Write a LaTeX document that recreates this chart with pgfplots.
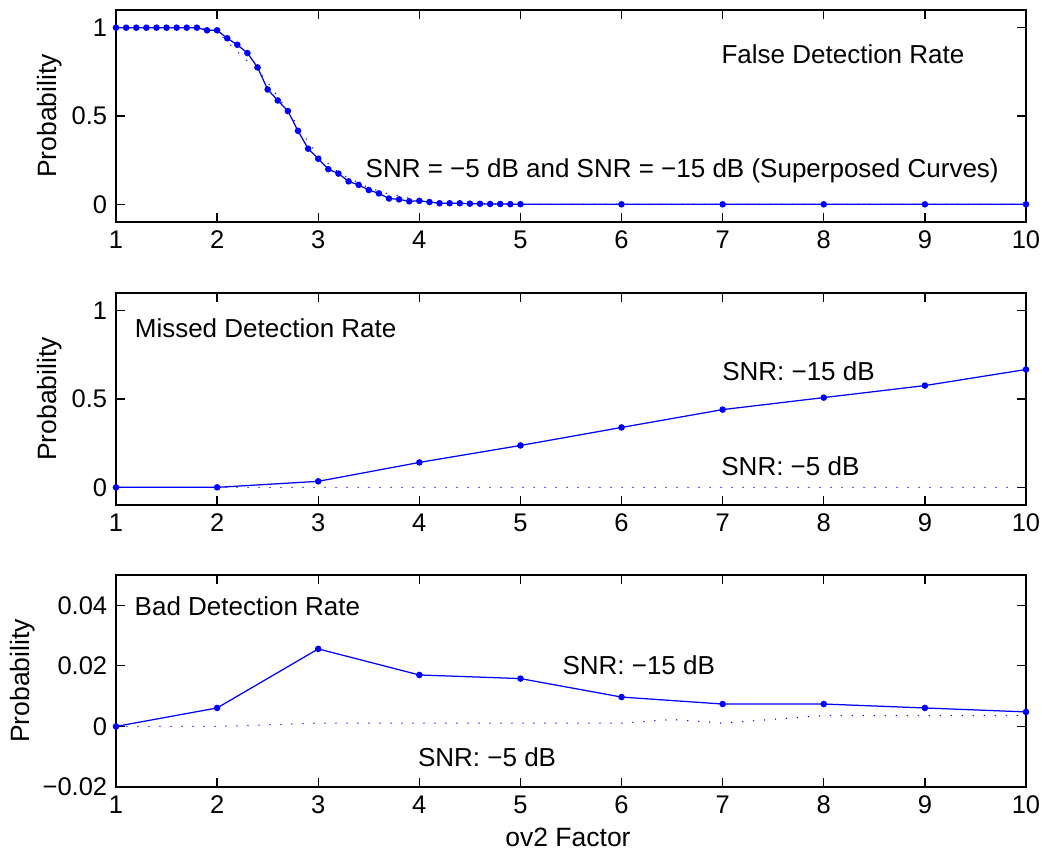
\documentclass[border=0pt]{standalone}
\usepackage{fontspec}
\setmainfont{Liberation Sans}
\usepackage{pgfplots}
\pgfplotsset{compat=1.18}

\definecolor{mblue}{RGB}{0,0,255}

\tikzset{note/.style={font=\fontsize{10.4}{12}\selectfont, anchor=center}}

\pgfplotsset{
  panel/.style={
    scale only axis, width=364pt, height=84.8pt,
    xmin=1, xmax=10, xtick={1,...,10},
    tick align=inside, major tick length=3.6pt,
    axis line style={line width=0.6pt},
    every tick/.style={black, line width=0.5pt},
    tick label style={font=\fontsize{10.2}{12}\selectfont},
    label style={font=\fontsize{10.6}{12}\selectfont},
    /pgf/number format/assume math mode=true,
    scaled y ticks=false,
    ylabel=Probability,
    clip=false,
  },
  solidcurve/.style={mblue, line width=0.5pt, mark=*, mark size=1.05pt,
    mark options={fill=mblue, draw=mblue}},
  dotcurve/.style={mblue, line width=0.6pt, line cap=round,
    dash pattern=on 0pt off 4.4pt},
}

\begin{document}
\begin{tikzpicture}
\path[use as bounding box] (0,0) rectangle (416.8pt,340.8pt);

% ---- False detection rate ----
\begin{axis}[panel, at={(46.4pt,252pt)}, anchor=south west,
  ymin=-0.1, ymax=1.1, ytick={0,0.5,1}, yticklabels={0,0.5,1},
  ylabel style={at={(axis description cs:-0.0725,0.5)}, anchor=center}]
\addplot[dotcurve] coordinates {
 (1.0,1) (1.1,1) (1.2,1) (1.3,1) (1.4,1) (1.5,1) (1.6,1) (1.7,1) (1.8,1)
 (1.9,0.99) (2.0,0.98) (2.1,0.921) (2.2,0.865) (2.3,0.81) (2.4,0.76)
 (2.5,0.69) (2.6,0.61) (2.7,0.53) (2.8,0.44) (2.9,0.354) (3.0,0.28)
 (3.1,0.23) (3.2,0.18) (3.3,0.15) (3.4,0.12) (3.5,0.095) (3.6,0.075)
 (3.7,0.058) (3.8,0.05) (3.9,0.035) (4.0,0.025) (4.1,0.018) (4.2,0.012)
 (4.3,0.01) (4.4,0.007) (4.5,0.005) (4.6,0.004) (4.7,0.003) (4.8,0.002)
 (4.9,0.001) (5.0,0) (6,0) (7,0) (8,0) (9,0) (10,0)};
\addplot[solidcurve] coordinates {
 (1.0,1) (1.1,1) (1.2,1) (1.3,1) (1.4,1) (1.5,1) (1.6,1) (1.7,1) (1.8,1)
 (1.9,0.985) (2.0,0.985) (2.1,0.94) (2.2,0.903) (2.3,0.856) (2.4,0.775)
 (2.5,0.65) (2.6,0.588) (2.7,0.528) (2.8,0.416) (2.9,0.315) (3.0,0.258)
 (3.1,0.199) (3.2,0.174) (3.3,0.13) (3.4,0.11) (3.5,0.081) (3.6,0.062)
 (3.7,0.033) (3.8,0.028) (3.9,0.017) (4.0,0.02) (4.1,0.013) (4.2,0.006)
 (4.3,0.006) (4.4,0.006) (4.5,0.004) (4.6,0.003) (4.7,0.002) (4.8,0.002)
 (4.9,0.001) (5.0,0.001) (6,0) (7,0) (8,0) (9,0) (10,0)};
\node[note] at (axis cs:8.19,0.848) {False Detection Rate};
\node[note] at (axis cs:6.6,0.19) {SNR = −5 dB and SNR = −15 dB (Superposed Curves)};
\end{axis}

% ---- Missed detection rate ----
\begin{axis}[panel, at={(46.4pt,138.8pt)}, anchor=south west,
  ymin=-0.1, ymax=1.1, ytick={0,0.5,1}, yticklabels={0,0.5,1},
  ylabel style={at={(axis description cs:-0.0725,0.5)}, anchor=center}]
\addplot[dotcurve] coordinates {
 (1,0) (2,0) (3,0) (4,0) (5,0) (6,0) (7,0) (8,0) (9,0) (10,0)};
\addplot[solidcurve] coordinates {
 (1,0) (2,0) (3,0.034) (4,0.141) (5,0.237) (6,0.339) (7,0.44) (8,0.508)
 (9,0.576) (10,0.667)};
\node[note] at (axis cs:2.48,0.9) {Missed Detection Rate};
\node[note] at (axis cs:7.75,0.655) {SNR: −15 dB};
\node[note] at (axis cs:7.67,0.119) {SNR: −5 dB};
\end{axis}

% ---- Bad detection rate ----
\begin{axis}[panel, at={(46.4pt,26pt)}, anchor=south west,
  ymin=-0.02, ymax=0.05, ytick={-0.02,0,0.02,0.04},
  yticklabels={−0.02,0,0.02,0.04},
  ylabel style={at={(axis description cs:-0.103,0.5)}, anchor=center},
  xlabel={ov2 Factor},
  xlabel style={at={(axis description cs:0.4967,0)}, yshift=-20pt, anchor=center}]
\addplot[dotcurve] coordinates {
 (1,0) (2,0) (3,0.0011) (4,0.0011) (5,0.0011) (6,0.0011) (6.5,0.0023)
 (7,0.0011) (8,0.0036) (9,0.0036) (10,0.0036)};
\addplot[solidcurve] coordinates {
 (1,0) (2,0.0061) (3,0.0256) (4,0.0170) (5,0.0158) (6,0.0097) (7,0.0074)
 (8,0.0074) (9,0.0061) (10,0.0048)};
\node[note] at (axis cs:2.30,0.0397) {Bad Detection Rate};
\node[note] at (axis cs:6.17,0.0202) {SNR: −15 dB};
\node[note] at (axis cs:4.67,-0.0102) {SNR: −5 dB};
\end{axis}
\end{tikzpicture}
\end{document}
